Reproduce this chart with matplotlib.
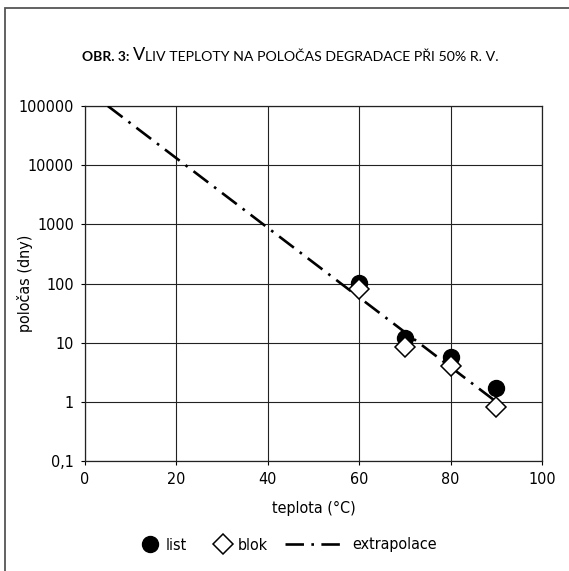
import matplotlib
matplotlib.use("Agg")
from matplotlib import pyplot as plt
from matplotlib.lines import Line2D
from matplotlib.patches import Rectangle
from matplotlib.ticker import FixedLocator, FixedFormatter, NullLocator

plt.rcParams['font.family'] = ['DejaVu Sans']
plt.rcParams['font.stretch'] = 'condensed'

# data
teplota = [60, 70, 80, 90]
list_dny = [102, 12, 5.8, 1.7]
blok_dny = [81, 8.5, 4.1, 0.82]
extrap_t = [5, 90]
extrap_dny = [100000, 1]

y_ticks = [0.1, 1, 10, 100, 1000, 10000, 100000]
y_labels = ['0,1', '1', '10', '100', '1000', '10000', '100000']
x_ticks = [0, 20, 40, 60, 80, 100]

W, H = 569, 571
FS = 11.5
fig = plt.figure(figsize=(W / 100, H / 100), dpi=100)

# frame round the whole figure (right and bottom edges fall outside the picture)
fig.patches.append(Rectangle((5 / W, -0.2), 1.5, 1.2 - 8 / H, fill=False,
                             edgecolor='#555555', linewidth=1.3,
                             transform=fig.transFigure, clip_on=False))

ax = fig.add_axes([85 / W, 1 - 461 / H, (542 - 85) / W, (461 - 106) / H])

ax.plot(extrap_t, extrap_dny, color='black', linewidth=1.9,
        linestyle=(0, (7.0, 2.8, 1.0, 2.8)), zorder=3)
ax.plot(teplota, list_dny, linestyle='none', marker='o', markersize=11.5,
        color='black', zorder=4)
ax.plot(teplota, blok_dny, linestyle='none', marker='D', markersize=10,
        markerfacecolor='white', markeredgecolor='black', markeredgewidth=1.1, zorder=5)

ax.set_yscale('log')
ax.set_xlim(0, 100)
ax.set_ylim(0.1, 100000)
ax.yaxis.set_major_locator(FixedLocator(y_ticks))
ax.yaxis.set_major_formatter(FixedFormatter(y_labels))
ax.yaxis.set_minor_locator(NullLocator())
ax.set_xticks(x_ticks)
ax.tick_params(axis='both', labelsize=FS, length=3, width=0.8, direction='out',
               color='black', pad=5)

ax.grid(True, which='major', color='#222222', linewidth=0.8)
for s in ax.spines.values():
    s.set_color('#222222')
    s.set_linewidth(0.9)

ax.set_xlabel('teplota (°C)', fontsize=FS, labelpad=10)
ax.set_ylabel('poločas (dny)', fontsize=FS)
ax.yaxis.set_label_coords(-0.114, 0.5)

# title in small caps, pieced together
tfam = ['Lato', 'DejaVu Sans']
t1 = fig.text(82 / W, 1 - 57 / H, 'OBR. 3: ', fontsize=10, fontweight='bold',
              family=tfam, stretch='normal', va='center', ha='left')
t2 = ax.annotate('V', xy=(1, 0), xycoords=t1, va='bottom', ha='left', stretch='normal',
                 fontsize=13, family=tfam, annotation_clip=False)
ax.annotate('LIV TEPLOTY NA POLOČAS DEGRADACE PŘI 50% R. V.', xy=(1, 0), xycoords=t2,
            va='bottom', ha='left', fontsize=10.2, family=tfam, stretch='normal',
            annotation_clip=False)

# legend: markers in one, the line in another
h_list = Line2D([], [], linestyle='none', marker='o', markersize=11.5, color='black')
h_blok = Line2D([], [], linestyle='none', marker='D', markersize=10,
                markerfacecolor='white', markeredgecolor='black', markeredgewidth=1.1)
h_ext = Line2D([], [], color='black', linewidth=1.9, linestyle=(0, (7.0, 2.8, 1.0, 2.8)))

fig.legend([h_list, h_blok], ['list', 'blok'], loc='center left',
           bbox_to_anchor=(139.6 / W, 1 - 545 / H), ncol=2, frameon=False,
           fontsize=FS, handlelength=1.3, handletextpad=0.32,
           columnspacing=1.6, borderpad=0, borderaxespad=0)
fig.legend([h_ext], ['extrapolace'], loc='center left',
           bbox_to_anchor=(285 / W, 1 - 545 / H), frameon=False,
           fontsize=FS, handlelength=3.76, handletextpad=0.45,
           borderpad=0, borderaxespad=0)

fig.savefig('out.png', dpi=100)
